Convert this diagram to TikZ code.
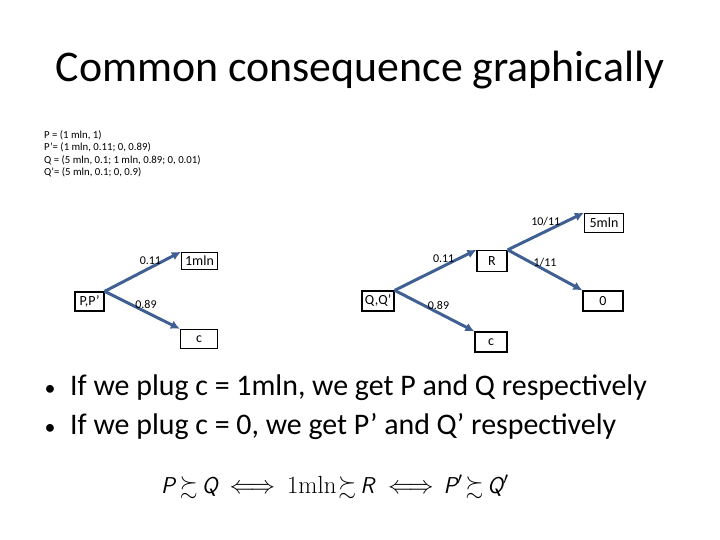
\documentclass[tikz,border=0pt]{standalone}
\usepackage{amssymb}
\usepackage[no-math]{fontspec}
\setmainfont{Carlito}
\usetikzlibrary{arrows.meta}
\definecolor{arrowblue}{RGB}{64,96,148}
\tikzset{
	outcome/.style={draw=black, line width=1.3bp, fill=white, inner sep=0pt, minimum height=19bp, font=\fontsize{14}{16}\selectfont},
	branch/.style={-{Latex[length=9bp,width=9bp]}, draw=arrowblue, line width=3bp},
	prob/.style={font=\fontsize{12}{14}\selectfont, inner sep=1.5bp},
	lottery/.style={anchor=base west, inner sep=0pt, font=\fontsize{10.8}{12.5}\selectfont},
	bullet/.style={anchor=base west, inner sep=0pt, font=\fontsize{30}{34}\selectfont},
	dot/.style={anchor=base, inner sep=0pt, font=\fontsize{22}{26}\selectfont}
}
\newcommand{\sfit}[1]{{\sffamily\itshape #1}}
\begin{document}
\begin{tikzpicture}[x=1bp, y=-1bp]
		\useasboundingbox (0,0) rectangle (720,540);
		\node[anchor=base, inner sep=0pt, font=\fontsize{44}{50}\selectfont] (title) at (360,82) {Common consequence graphically};
		\node[lottery] (l1) at (44,138.5) {P = (1 mln, 1)};
		\node[lottery] (l2) at (44,151) {P’= (1 mln, 0.11; 0, 0.89)};
		\node[lottery] (l3) at (44,163.5) {Q = (5 mln, 0.1; 1 mln, 0.89; 0, 0.01)};
		\node[lottery] (l4) at (44,176) {Q’= (5 mln, 0.1; 0, 0.9)};
		% left tree
		\node[outcome, minimum width=29bp] (PP) at (89.5,301.5) {P,P'};
		\node[outcome, minimum width=36bp, minimum height=17bp] (m1) at (199.5,261) {1mln};
		\node[outcome, minimum width=37bp] (c1) at (199,339) {c};
		\draw [branch] (PP.north east)--(m1.north west) node[prob, pos=0.6, above] {0.11};
		\draw [branch] (PP.north east)--(c1.north west) node[prob, pos=0.55, above] {0.89};
		% right tree
		\node[outcome, minimum width=32bp, minimum height=20bp] (QQ) at (378,301) {Q,Q'};
		\node[outcome, minimum width=30bp, minimum height=21bp] (R) at (492,261) {R};
		\node[outcome, minimum width=32bp, minimum height=20bp] (c2) at (491,342) {c};
		\node[outcome, minimum width=39bp] (m5) at (604,223) {5mln};
		\node[outcome, minimum width=40bp, minimum height=20bp] (zero) at (603,301) {0};
		\draw [branch] (QQ.north east)--(R.north west) node[prob, pos=0.6, above] {0.11};
		\draw [branch] (QQ.north east)--(c2.north west) node[prob, pos=0.55, above] {0.89};
		\draw [branch] (R.north east)--(m5.north west) node[prob, pos=0.5, above=2bp] {10/11};
		\draw [branch] (R.north east)--(zero.north west) node[prob, pos=0.5, above] {1/11};
		% bullets
		\node[dot] (d1) at (50,395) {•};
		\node[bullet] (b1) at (70,395) {If we plug c = 1mln, we get P and Q respectively};
		\node[dot] (d2) at (50,434) {•};
		\node[bullet] (b2) at (70,434) {If we plug c = 0, we get P’ and Q’ respectively};
		% preference chain
		\node[anchor=base west, inner sep=0pt, font=\fontsize{23}{27}\selectfont] (pref) at (161,493) {\sfit{P}\hspace{5bp}$\succsim$\hspace{4bp}\sfit{Q}\hspace{12bp}$\Longleftrightarrow$\hspace{12bp}$\mathrm{1mln}$\hspace{2bp}$\succsim$\hspace{4bp}\sfit{R}\hspace{14bp}$\Longleftrightarrow$\hspace{10bp}\sfit{P$'$}\hspace{3bp}$\succsim$\hspace{4bp}\sfit{Q$'$}};
	\end{tikzpicture}
\end{document}
